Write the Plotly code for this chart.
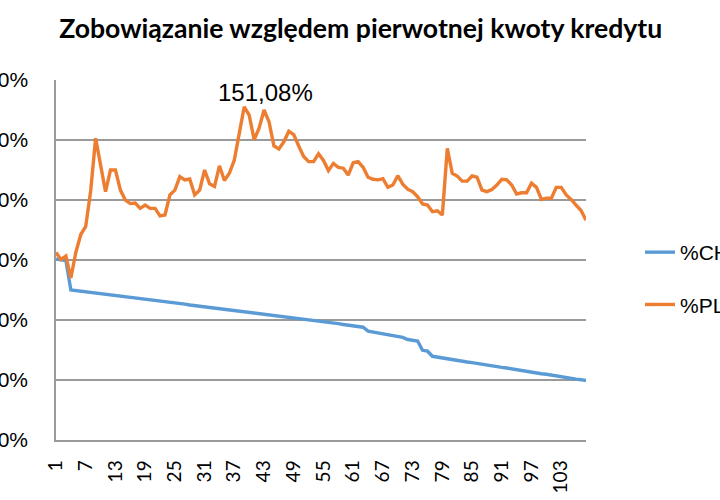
import plotly.graph_objects as go

title_text = "Zobowiązanie względem pierwotnej kwoty kredytu"
series_names = ["%CHF", "%PLN"]

months = list(range(1, 109))

chf_pct = [
    100.3, 100.0, 99.8, 90.0, 89.8, 89.6, 89.4, 89.2, 89.1, 88.9,
    88.6, 88.4, 88.2, 88.0, 87.8, 87.6, 87.4, 87.2, 86.9, 86.7,
    86.5, 86.3, 86.1, 85.9, 85.7, 85.5, 85.3, 85.0, 84.8, 84.6,
    84.4, 84.2, 83.9, 83.7, 83.5, 83.3, 83.1, 82.9, 82.7, 82.5,
    82.3, 82.1, 81.9, 81.7, 81.5, 81.2, 81.0, 80.8, 80.6, 80.4,
    80.2, 80.0, 79.8, 79.6, 79.4, 79.2, 79.0, 78.8, 78.5, 78.3,
    78.1, 77.9, 77.6, 76.3, 76.0, 75.7, 75.4, 75.1, 74.8, 74.5,
    74.2, 73.5, 73.3, 73.0, 69.9, 69.6, 67.9, 67.6, 67.4, 67.1,
    66.8, 66.6, 66.3, 66.0, 65.8, 65.5, 65.3, 65.0, 64.8, 64.5,
    64.2, 64.0, 63.7, 63.5, 63.2, 62.9, 62.7, 62.4, 62.1, 61.9,
    61.6, 61.4, 61.1, 60.8, 60.6, 60.3, 60.1, 59.8,
]

pln_pct = [
    102.5, 100.2, 101.3, 94.0, 102.5, 108.5, 111.2, 123.0, 140.6, 131.0,
    122.8, 130.0, 130.0, 123.3, 120.0, 118.8, 119.0, 117.2, 118.3, 117.2,
    117.2, 114.7, 115.0, 121.7, 123.3, 127.8, 126.7, 127.0, 121.7, 123.3,
    130.0, 125.4, 124.5, 131.4, 126.5, 128.9, 133.3, 142.2, 151.08, 148.3,
    140.1, 143.9, 150.0, 146.1, 138.0, 137.0, 139.4, 142.9, 141.8, 138.0,
    134.5, 132.8, 132.8, 135.4, 133.2, 129.8, 132.2, 130.9, 130.6, 128.3,
    132.4, 132.8, 130.9, 127.6, 126.9, 126.7, 127.1, 124.2, 125.0, 128.1,
    125.3, 123.6, 122.8, 121.1, 118.7, 118.3, 116.1, 116.4, 115.0, 137.2,
    128.9, 128.0, 126.3, 126.3, 128.0, 127.6, 123.3, 122.8, 123.5, 125.0,
    126.9, 126.7, 125.0, 122.0, 122.4, 122.4, 125.6, 124.2, 120.2, 120.6,
    120.6, 124.2, 124.2, 121.7, 120.2, 118.3, 116.5, 113.3,
]

x_tick_vals = list(range(1, 109, 6))
x_tick_text = [str(v) for v in x_tick_vals]
y_tick_vals = [40, 60, 80, 100, 120, 140, 160]
y_tick_text = [f"{v}%" for v in y_tick_vals]

peak_label = "151,08%"

fig = go.Figure()
fig.add_trace(go.Scatter(
    x=months, y=chf_pct, mode="lines", name=series_names[0],
    line=dict(color="#5B9BD5", width=3.4), legendgroup="a",
))
fig.add_trace(go.Scatter(
    x=months, y=pln_pct, mode="lines", name=series_names[1],
    line=dict(color="#ED7D31", width=3.4), legendgroup="b",
))

peak_idx = pln_pct.index(max(pln_pct))
fig.add_annotation(
    x=months[peak_idx], y=pln_pct[peak_idx], text=peak_label,
    showarrow=False, xanchor="center", yanchor="middle",
    xshift=21, yshift=14,
    font=dict(family="Liberation Sans", size=24, color="#000000"),
)

fig.update_layout(
    width=720, height=500,
    paper_bgcolor="white", plot_bgcolor="white",
    margin=dict(l=56, r=134, t=80, b=60, autoexpand=False),
    title=dict(
        text="<b>" + title_text + "</b>",
        x=0.501, xref="container", y=1 - 29 / 500, yref="container",
        xanchor="center", yanchor="middle",
        font=dict(family="Lato", size=26.6, color="#000000"),
    ),
    showlegend=True,
    legend=dict(
        x=(640 - 56) / 530, xanchor="left",
        y=(440 - 232) / 360, yanchor="top",
        font=dict(family="Liberation Sans", size=21, color="#000000"),
        tracegroupgap=22, traceorder="grouped",
        bgcolor="rgba(0,0,0,0)",
    ),
    xaxis=dict(
        range=[1, 108], tickmode="array", tickvals=x_tick_vals,
        ticktext=x_tick_text, tickangle=-90,
        showgrid=False, zeroline=False,
        showline=True, linecolor="#9a9a9a", linewidth=1.5,
        ticks="", ticklabelstandoff=11,
        tickfont=dict(family="Lato", size=19, color="#000000"),
        automargin=False,
    ),
    yaxis=dict(
        range=[40, 160], tickmode="array", tickvals=y_tick_vals,
        ticktext=y_tick_text, showgrid=True, gridcolor="#9a9a9a", gridwidth=1.5,
        zeroline=False, showline=True, linecolor="#9a9a9a", linewidth=1.5,
        ticks="", ticklabelstandoff=22,
        tickfont=dict(family="Liberation Sans", size=21, color="#000000"),
        automargin=False,
    ),
)

fig.write_html("out.html")
